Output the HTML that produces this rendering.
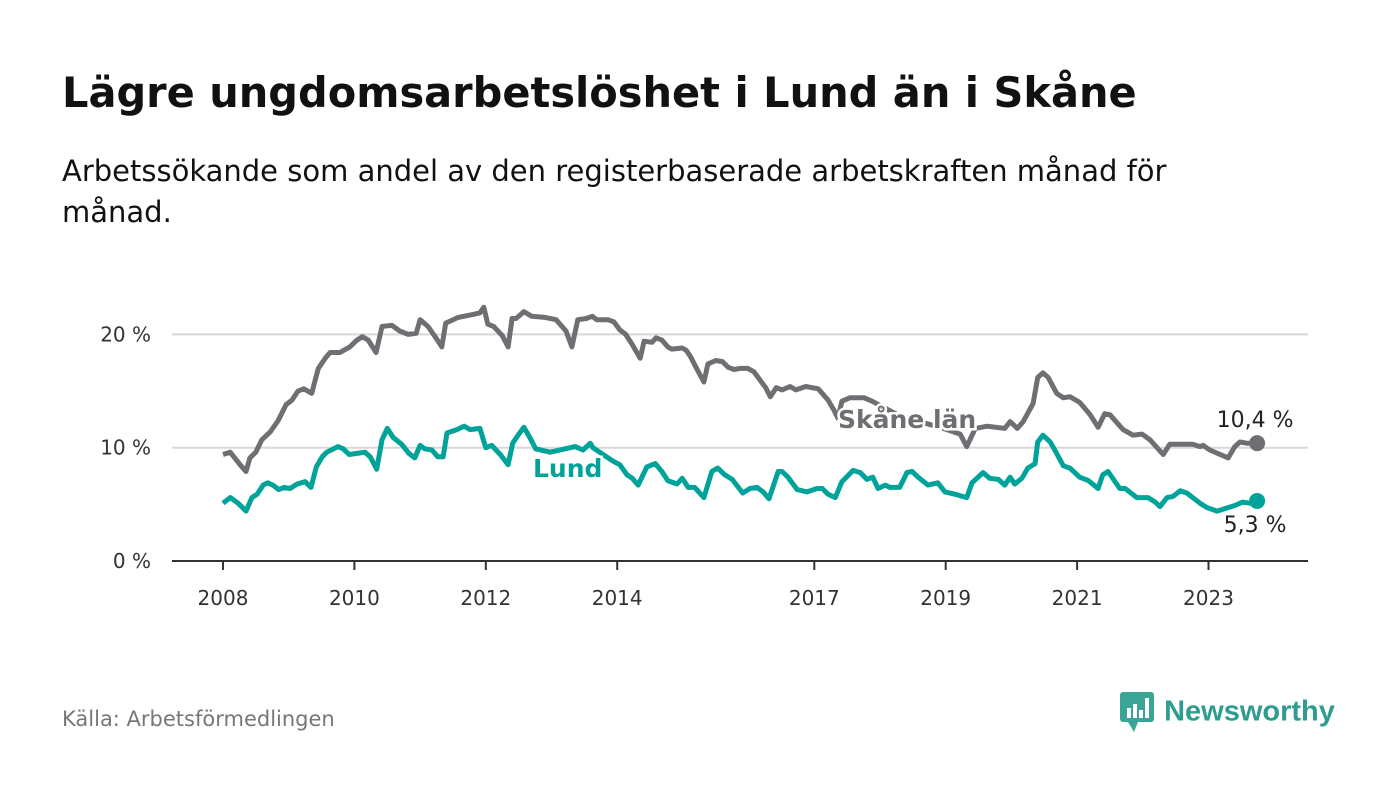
<!DOCTYPE html>
<html><head><meta charset="utf-8"><style>
body{margin:0;background:#fff;font-family:"DejaVu Sans","Liberation Sans",sans-serif;}
#wrap{position:relative;width:1400px;height:794px;overflow:hidden;}
h1{position:absolute;left:62px;top:68px;margin:0;font-size:41.5px;font-weight:bold;color:#111;white-space:nowrap;}
.sub{position:absolute;left:62px;top:151px;width:1200px;font-size:29px;line-height:41px;color:#111;}
.src{position:absolute;left:62px;top:707px;font-size:21px;color:#777;}
.logo{position:absolute;left:1120px;top:690px;font-size:29px;font-weight:bold;color:#2e9c8f;font-family:"Liberation Sans",sans-serif;}
svg{position:absolute;left:0;top:0}
</style></head><body><div id="wrap">
<h1>Lägre ungdomsarbetslöshet i Lund än i Skåne</h1>
<div class="sub">Arbetssökande som andel av den registerbaserade arbetskraften månad för<br>månad.</div>
<div class="src">Källa: Arbetsförmedlingen</div>
<div class="logo"><svg width="36" height="44" style="position:static;vertical-align:middle"><rect x="0" y="2" width="34" height="30" rx="3" fill="#3aa597"/><path d="M8 32 L14 42 L18 32Z" fill="#3aa597"/><rect x="7" y="18" width="4" height="10" fill="#fff"/><rect x="13" y="14" width="4" height="14" fill="#fff"/><rect x="19" y="20" width="4" height="8" fill="#fff"/><rect x="25" y="8" width="4" height="20" fill="#fff"/></svg> <span style="vertical-align:middle">Newsworthy</span></div>
<svg id="c" width="1400" height="794"></svg>
</div>
<script>
const yTicks=[0,10,20];
const yTickLabels=["0 %","10 %","20 %"];
const xTicks=[2008,2010,2012,2014,2017,2019,2021,2023];
const skaneT=[2008,2008.11,2008.26,2008.35,2008.41,2008.5,2008.59,2008.72,2008.84,2008.96,2009.05,2009.14,2009.23,2009.35,2009.45,2009.57,2009.63,2009.78,2009.93,2010.04,2010.12,2010.21,2010.33,2010.42,2010.57,2010.69,2010.82,2010.94,2011,2011.12,2011.24,2011.33,2011.39,2011.58,2011.76,2011.91,2011.97,2012.03,2012.12,2012.25,2012.34,2012.4,2012.46,2012.58,2012.7,2012.9,2013.07,2013.22,2013.31,2013.4,2013.53,2013.62,2013.69,2013.86,2013.95,2014.04,2014.13,2014.23,2014.35,2014.41,2014.53,2014.59,2014.68,2014.77,2014.83,2014.99,2015.05,2015.11,2015.2,2015.32,2015.38,2015.5,2015.6,2015.69,2015.78,2015.87,2015.99,2016.08,2016.17,2016.26,2016.33,2016.42,2016.51,2016.63,2016.72,2016.87,2017.06,2017.21,2017.3,2017.36,2017.42,2017.54,2017.76,2017.88,2018.3,2018.91,2019.22,2019.32,2019.45,2019.63,2019.9,2019.98,2020.09,2020.18,2020.33,2020.4,2020.48,2020.56,2020.69,2020.79,2020.89,2021.04,2021.2,2021.32,2021.42,2021.5,2021.7,2021.85,2021.99,2022.11,2022.31,2022.41,2022.76,2022.87,2022.92,2023.02,2023.3,2023.4,2023.48,2023.58,2023.74];
const skaneV=[9.4,9.6,8.5,7.9,9.1,9.6,10.7,11.4,12.4,13.8,14.2,15,15.2,14.8,17,18,18.4,18.4,18.9,19.5,19.8,19.5,18.4,20.7,20.8,20.3,20,20.1,21.3,20.7,19.7,18.9,21,21.5,21.7,21.9,22.4,20.9,20.7,19.9,18.9,21.4,21.4,22,21.6,21.5,21.3,20.3,18.9,21.3,21.4,21.6,21.3,21.3,21.1,20.4,20,19.1,17.9,19.4,19.3,19.7,19.5,18.9,18.7,18.8,18.6,18.1,17.1,15.8,17.4,17.7,17.6,17.1,16.9,17,17,16.7,16,15.3,14.5,15.3,15.1,15.4,15.1,15.4,15.2,14.2,13.3,12.6,14.1,14.4,14.4,14.1,12.8,11.8,11.2,10.1,11.7,11.9,11.7,12.3,11.7,12.3,13.9,16.2,16.6,16.2,14.8,14.4,14.5,14,12.9,11.8,13,12.9,11.6,11.1,11.2,10.7,9.4,10.3,10.3,10.1,10.2,9.8,9.1,10.1,10.5,10.4,10.4];
const lundT=[2008,2008.11,2008.23,2008.35,2008.44,2008.52,2008.61,2008.68,2008.76,2008.85,2008.93,2009.02,2009.13,2009.25,2009.34,2009.42,2009.51,2009.58,2009.75,2009.83,2009.92,2010.04,2010.16,2010.24,2010.34,2010.42,2010.5,2010.59,2010.72,2010.83,2010.92,2011,2011.07,2011.18,2011.27,2011.35,2011.41,2011.56,2011.67,2011.76,2011.91,2012,2012.09,2012.22,2012.34,2012.41,2012.49,2012.58,2012.67,2012.76,2012.98,2013.36,2013.48,2013.59,2013.63,2013.94,2014.04,2014.15,2014.23,2014.32,2014.45,2014.58,2014.68,2014.77,2014.91,2014.99,2015.08,2015.18,2015.32,2015.44,2015.53,2015.64,2015.75,2015.91,2016.02,2016.13,2016.22,2016.31,2016.45,2016.51,2016.6,2016.74,2016.89,2017.04,2017.12,2017.21,2017.32,2017.42,2017.59,2017.7,2017.8,2017.89,2017.97,2018.08,2018.15,2018.3,2018.41,2018.49,2018.58,2018.73,2018.88,2018.99,2019.14,2019.32,2019.4,2019.57,2019.67,2019.8,2019.9,2019.98,2020.05,2020.16,2020.25,2020.36,2020.4,2020.48,2020.59,2020.66,2020.79,2020.89,2021.04,2021.17,2021.32,2021.39,2021.47,2021.65,2021.73,2021.91,2022.08,2022.19,2022.26,2022.37,2022.46,2022.57,2022.67,2022.87,2022.98,2023.13,2023.4,2023.52,2023.63,2023.74];
const lundV=[5.1,5.6,5.1,4.4,5.6,5.9,6.7,6.9,6.7,6.3,6.5,6.4,6.8,7,6.5,8.3,9.2,9.6,10.1,9.9,9.4,9.5,9.6,9.2,8.1,10.7,11.7,10.9,10.3,9.5,9.1,10.2,9.9,9.8,9.2,9.2,11.3,11.6,11.9,11.6,11.7,10,10.2,9.4,8.5,10.4,11.1,11.8,10.9,9.9,9.6,10.1,9.8,10.4,10,8.8,8.5,7.6,7.3,6.7,8.3,8.6,7.9,7.1,6.8,7.3,6.5,6.5,5.6,7.9,8.2,7.6,7.2,6,6.4,6.5,6.1,5.5,7.9,7.9,7.4,6.3,6.1,6.4,6.4,5.9,5.6,7,8,7.8,7.2,7.4,6.4,6.7,6.5,6.5,7.8,7.9,7.4,6.7,6.9,6.1,5.9,5.6,6.9,7.8,7.3,7.2,6.7,7.4,6.8,7.3,8.2,8.6,10.5,11.1,10.5,9.8,8.4,8.2,7.4,7.1,6.4,7.6,7.9,6.4,6.4,5.6,5.6,5.2,4.8,5.6,5.7,6.2,6,5.1,4.7,4.4,4.9,5.2,5.1,5.3];
const NS='http://www.w3.org/2000/svg',svg=document.getElementById('c');
const X=t=>223+(t-2008)*65.7, Y=v=>561-v*11.33;
function mk(tag,a){const e=document.createElementNS(NS,tag);for(const k in a)e.setAttribute(k,a[k]);svg.appendChild(e);return e;}
yTicks.forEach((v,i)=>{
 if(v>0){const g=mk('line',{x1:172,x2:1308,y1:Y(v),y2:Y(v),stroke:'#d8d8d8','stroke-width':2});
 
 }
 const t=mk('text',{x:151,y:Y(v)+7,'text-anchor':'end','font-size':20,fill:'#333'});t.textContent=yTickLabels[i];
 
 
});
const ax=mk('line',{x1:172,x2:1308,y1:561,y2:561,stroke:'#333','stroke-width':2});


xTicks.forEach(y=>{
 const l=mk('line',{x1:X(y),x2:X(y),y1:561,y2:570,stroke:'#333','stroke-width':2});
 
 
 const t=mk('text',{x:X(y),y:605,'text-anchor':'middle','font-size':20,fill:'#333'});t.textContent=y;
 
 
});
function line(T,V,c,name){
 const p=mk('path',{d:T.map((t,i)=>(i?'L':'M')+X(t).toFixed(1)+' '+Y(V[i]).toFixed(1)).join(''),fill:'none',stroke:c,'stroke-width':5,'stroke-linejoin':'round'});
 
 
 const n=T.length-1;
 const d=mk('circle',{cx:X(T[n]),cy:Y(V[n]),r:8,fill:c});
 
 
}
line(skaneT,skaneV,'#6f6e73','skane');
line(lundT,lundV,'#00a399','lund');
function lab(x,y,s,c,fw,anchor,name){
 const t=mk('text',{x:x,y:y,'font-size':fw?25:22,'font-weight':fw?'bold':'normal',fill:c,stroke:'#fff','stroke-width':5,'paint-order':'stroke','text-anchor':anchor});t.textContent=s;
 
 
}
lab(838,428,'Skåne län','#6f6e73',1,'start','skane-label');
lab(533,477,'Lund','#00a399',1,'start','lund-label');
const nS=skaneV.length-1,nL=lundV.length-1;
lab(X(skaneT[nS])-2,Y(skaneV[nS])-16,skaneV[nS].toFixed(1).replace('.',',')+' %','#222',0,'middle','skane-value-label');
lab(X(lundT[nL])-2,Y(lundV[nL])+31,lundV[nL].toFixed(1).replace('.',',')+' %','#222',0,'middle','lund-value-label');
</script></body></html>
